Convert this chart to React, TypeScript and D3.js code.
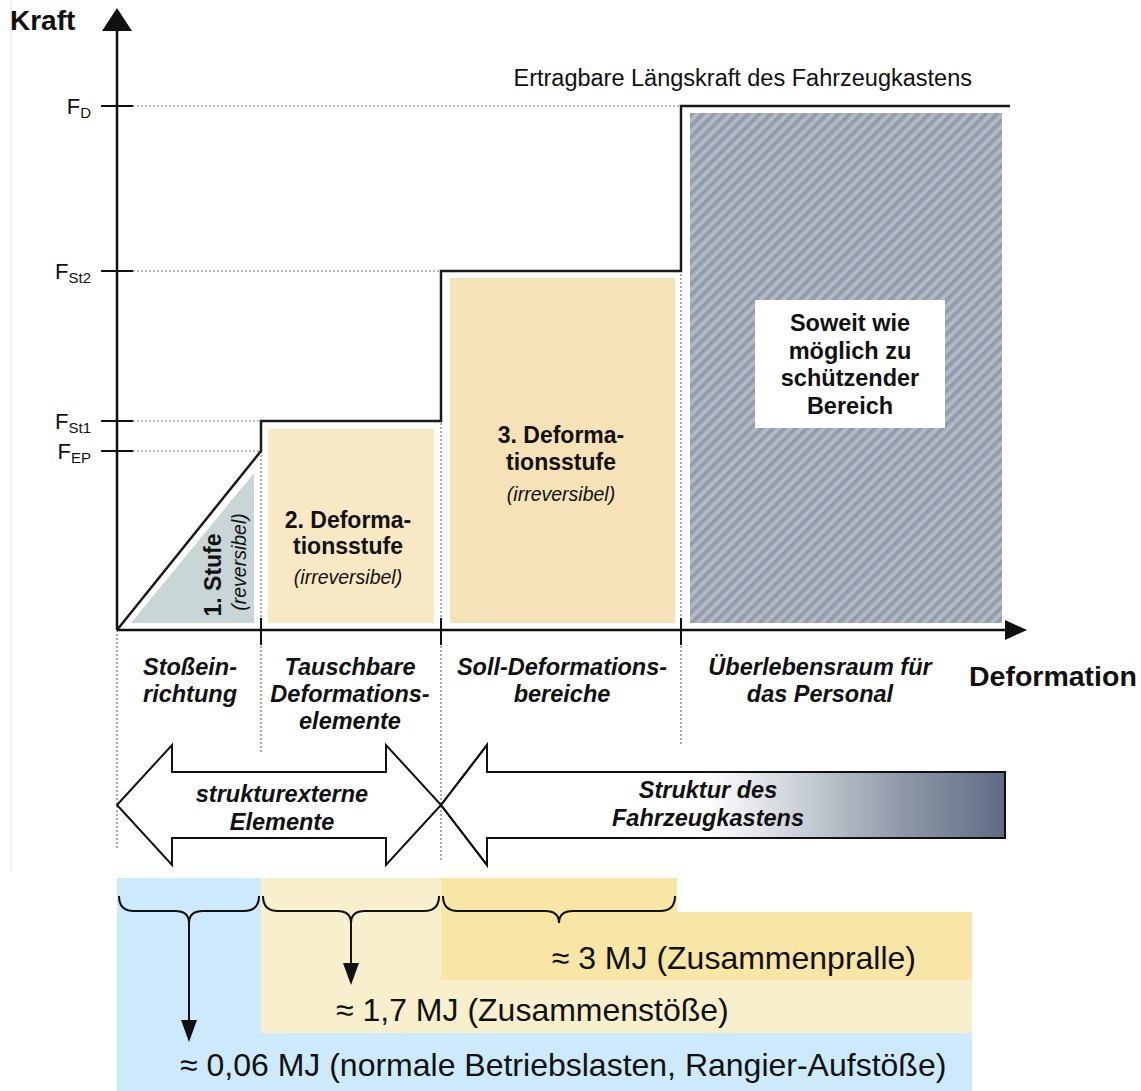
import React from "react";
import * as d3 from "d3";

// ---- data (diagram units) ----
const deformationBounds = [0, 144, 324, 564, 893]; // stage boundaries along deformation axis
const forceLevels = [
  { key: "EP", main: "F", sub: "EP", value: 179 },
  { key: "St1", main: "F", sub: "St1", value: 209 },
  { key: "St2", main: "F", sub: "St2", value: 359 },
  { key: "D", main: "F", sub: "D", value: 524 },
];
const profile = [
  [0, 0],
  [144, 179],
  [144, 209],
  [324, 209],
  [324, 359],
  [564, 359],
  [564, 524],
  [893, 524],
];
const categoryLabels = [
  ["Stoßein-", "richtung"],
  ["Tauschbare", "Deformations-", "elemente"],
  ["Soll-Deformations-", "bereiche"],
  ["Überlebensraum für", "das Personal"],
];
const energyLabels = [
  "≈ 3 MJ (Zusammenpralle)",
  "≈ 1,7 MJ (Zusammenstöße)",
  "≈ 0,06 MJ (normale Betriebslasten, Rangier-Aufstöße)",
];

const W = 1141;
const H = 1091;
const x = d3.scaleLinear().domain([0, 908]).range([117, 1025]);
const y = d3.scaleLinear().domain([0, 620]).range([630, 10]);

const FONT = "'Liberation Sans', Arial, sans-serif";

function brace(x0: number, x1: number, yTop: number) {
  const mid = (x0 + x1) / 2;
  const yb = yTop + 15;
  const tip = yTop + 27;
  const p = d3.path();
  p.moveTo(x0, yTop);
  p.quadraticCurveTo(x0, yb, x0 + 15, yb);
  p.lineTo(mid - 14, yb);
  p.quadraticCurveTo(mid, yb, mid, tip);
  p.quadraticCurveTo(mid, yb, mid + 14, yb);
  p.lineTo(x1 - 15, yb);
  p.quadraticCurveTo(x1, yb, x1, yTop);
  return p.toString();
}

export default function App() {
  const xb = deformationBounds.map((d) => x(d));
  const [x0, x1, x2, x3, x4] = xb;
  const y0 = y(0);
  const fEP = y(forceLevels[0].value);
  const fSt1 = y(forceLevels[1].value);
  const fSt2 = y(forceLevels[2].value);
  const fD = y(forceLevels[3].value);
  const line = d3
    .line<number[]>()
    .x((d) => x(d[0]))
    .y((d) => y(d[1]));

  const arrowMidY = 805;
  const headH = 60;
  const shaftH = 33;
  const dbl = [
    [x0, arrowMidY],
    [x0 + 55, arrowMidY - headH],
    [x0 + 55, arrowMidY - shaftH],
    [x2 - 55, arrowMidY - shaftH],
    [x2 - 55, arrowMidY - headH],
    [x2, arrowMidY],
    [x2 - 55, arrowMidY + headH],
    [x2 - 55, arrowMidY + shaftH],
    [x0 + 55, arrowMidY + shaftH],
    [x0 + 55, arrowMidY + headH],
  ];
  const sgl = [
    [x2, arrowMidY],
    [x2 + 46, arrowMidY - headH],
    [x2 + 46, arrowMidY - shaftH],
    [1005, arrowMidY - shaftH],
    [1005, arrowMidY + shaftH],
    [x2 + 46, arrowMidY + shaftH],
    [x2 + 46, arrowMidY + headH],
  ];
  const poly = (pts: number[][]) => "M" + pts.map((p) => p.join(",")).join("L") + "Z";

  const catCenters = [190, 350, 562, 820];

  const botTop = 878;
  const right = 972;
  const x3b = 677;

  return (
    <svg
      width={W}
      height={H}
      style={{ position: "absolute", left: 0, top: 0, background: "#fff" }}
      fontFamily={FONT}
    >
      <defs>
        <pattern id="hatch" width="8" height="8" patternUnits="userSpaceOnUse" patternTransform="rotate(45)">
          <rect width="8" height="8" fill="#a6afbb" />
          <rect width="3" height="8" fill="#929aab" />
          <rect x="5" width="1.5" height="8" fill="#bac3cc" />
        </pattern>
        <linearGradient id="grad" x1={x2} x2={1005} y1="0" y2="0" gradientUnits="userSpaceOnUse">
          <stop offset="0" stopColor="#ffffff" />
          <stop offset="0.47" stopColor="#ffffff" />
          <stop offset="0.64" stopColor="#c9cfd6" />
          <stop offset="0.82" stopColor="#8e98a8" />
          <stop offset="1" stopColor="#5e6b82" />
        </linearGradient>
      </defs>

      {/* faint scan border */}
      <line x1={11} x2={11} y1={0} y2={870} stroke="#ececec" strokeWidth={1.5} />

      {/* stage fills */}
      <path
        d={poly([
          [x0 + 14, y0 - 7],
          [x1 - 7, y0 - 7],
          [x1 - 7, fEP + 22],
        ])}
        fill="#c8d6d8"
      />
      <rect x={x1 + 7} y={fSt1 + 8} width={x2 - x1 - 14} height={y0 - fSt1 - 15} fill="#f8e8c4" />
      <rect x={x2 + 9} y={fSt2 + 7} width={x3 - x2 - 15} height={y0 - fSt2 - 14} fill="#f5e2b6" />
      <rect x={x3 + 9} y={fD + 7} width={x4 - x3 - 17} height={y0 - fD - 14} fill="url(#hatch)" />
      <rect x={755} y={300} width={190} height={128} fill="#fff" />

      {/* dotted guide lines */}
      <g stroke="#777" strokeWidth={1.2} strokeDasharray="2,2" fill="none">
        <line x1={133} x2={x3} y1={fD} y2={fD} />
        <line x1={133} x2={x2} y1={fSt2} y2={fSt2} />
        <line x1={133} x2={x1} y1={fSt1} y2={fSt1} />
        <line x1={133} x2={x1} y1={fEP} y2={fEP} />
        <line x1={x1} x2={x1} y1={fEP} y2={y0} />
        <line x1={x2} x2={x2} y1={fSt2} y2={y0} />
        <line x1={x3} x2={x3} y1={fD} y2={y0} />
        <line x1={x0} x2={x0} y1={y0} y2={850} />
        <line x1={x1} x2={x1} y1={y0} y2={752} />
        <line x1={x2} x2={x2} y1={y0} y2={862} />
        <line x1={x3} x2={x3} y1={y0} y2={745} />
      </g>

      {/* axes */}
      <line x1={x0} x2={x0} y1={y0} y2={28} stroke="#111" strokeWidth={2.5} />
      <path d={`M${x0 - 15},31L${x0 + 15},31L${x0},8Z`} fill="#111" />
      <line x1={x0} x2={1008} y1={y0} y2={y0} stroke="#111" strokeWidth={2.5} />
      <path d={`M1005,${y0 - 10}L1005,${y0 + 10}L1027,${y0}Z`} fill="#111" />

      {/* y ticks */}
      {forceLevels.map((f) => (
        <g key={f.key}>
          <line x1={101} x2={133} y1={y(f.value)} y2={y(f.value)} stroke="#111" strokeWidth={2} />
          <text x={91} y={y(f.value) + 8} textAnchor="end" fontSize={22} fill="#111">
            {f.main}
            <tspan fontSize={15} dy={4}>
              {f.sub}
            </tspan>
          </text>
        </g>
      ))}

      {/* x ticks */}
      {[x1, x2, x3].map((v, i) => (
        <line key={i} x1={v} x2={v} y1={618} y2={645} stroke="#111" strokeWidth={2} />
      ))}

      {/* force profile */}
      <path d={line(profile) || ""} fill="none" stroke="#1a1a1a" strokeWidth={2.5} />

      {/* text */}
      <text x={10} y={30} fontSize={28} fontWeight="bold" fill="#111">Kraft</text>
      <text x={969} y={686} fontSize={28.5} fontWeight="bold" fill="#111">Deformation</text>
      <text x={972} y={86} textAnchor="end" fontSize={23.5} fill="#111">Ertragbare Längskraft des Fahrzeugkastens</text>

      <text transform="translate(221,575) rotate(-90)" textAnchor="middle" fontSize={23} fontWeight="bold" fill="#111">1. Stufe</text>
      <text transform="translate(246,562) rotate(-90)" textAnchor="middle" fontSize={19.5} fontStyle="italic" fill="#111">(reversibel)</text>

      <g textAnchor="middle" fill="#111">
        <text x={348} y={528} fontSize={23} fontWeight="bold">2. Deforma-</text>
        <text x={348} y={554} fontSize={23} fontWeight="bold">tionsstufe</text>
        <text x={348} y={584} fontSize={19.5} fontStyle="italic">(irreversibel)</text>
        <text x={561} y={443} fontSize={23} fontWeight="bold">3. Deforma-</text>
        <text x={561} y={470} fontSize={23} fontWeight="bold">tionsstufe</text>
        <text x={561} y={501} fontSize={19.5} fontStyle="italic">(irreversibel)</text>
        {["Soweit wie", "möglich zu", "schützender", "Bereich"].map((t, i) => (
          <text key={t} x={850} y={331 + i * 27.5} fontSize={23.5} fontWeight="bold">{t}</text>
        ))}
      </g>

      {/* category labels */}
      <g textAnchor="middle" fill="#111" fontWeight="bold" fontStyle="italic" fontSize={23.5}>
        {categoryLabels.map((lines, i) =>
          lines.map((t, j) => (
            <text key={i + "-" + j} x={catCenters[i]} y={675 + j * 27}>{t}</text>
          ))
        )}
      </g>

      {/* region arrows */}
      <path d={poly(sgl)} fill="url(#grad)" stroke="#111" strokeWidth={2} />
      <path d={poly(dbl)} fill="#fff" stroke="#111" strokeWidth={2} />
      <path d={poly(sgl)} fill="none" stroke="#111" strokeWidth={2} />
      <g textAnchor="middle" fill="#111" fontWeight="bold" fontStyle="italic" fontSize={23.5}>
        <text x={282} y={802}>strukturexterne</text>
        <text x={282} y={830}>Elemente</text>
        <text x={708} y={798}>Struktur des</text>
        <text x={708} y={826}>Fahrzeugkastens</text>
      </g>

      {/* energy section */}
      <path
        d={poly([
          [x0, botTop],
          [x1, botTop],
          [x1, 1033],
          [right, 1033],
          [right, H],
          [x0, H],
        ])}
        fill="#cceafb"
      />
      <path
        d={poly([
          [x1, botTop],
          [x2, botTop],
          [x2, 980],
          [right, 980],
          [right, 1033],
          [x1, 1033],
        ])}
        fill="#f8efcd"
      />
      <path
        d={poly([
          [x2, botTop],
          [x3b, botTop],
          [x3b, 912],
          [right, 912],
          [right, 980],
          [x2, 980],
        ])}
        fill="#f7e6a6"
      />
      <g fill="none" stroke="#111" strokeWidth={2}>
        <path d={brace(x0 + 2, x1 - 2, 896)} />
        <path d={brace(x1 + 2, x2 - 2, 896)} />
        <path d={brace(x2 + 2, x3b - 2, 896)} />
        <line x1={(x0 + x1) / 2} x2={(x0 + x1) / 2} y1={923} y2={1022} />
        <line x1={(x1 + x2) / 2} x2={(x1 + x2) / 2} y1={923} y2={965} />
      </g>
      <path d={`M${(x0 + x1) / 2 - 8},1020L${(x0 + x1) / 2 + 8},1020L${(x0 + x1) / 2},1042Z`} fill="#111" />
      <path d={`M${(x1 + x2) / 2 - 8},963L${(x1 + x2) / 2 + 8},963L${(x1 + x2) / 2},985Z`} fill="#111" />
      <g fontSize={32} fill="#111">
        <text x={916} y={969} textAnchor="end">{energyLabels[0]}</text>
        <text x={336} y={1021}>{energyLabels[1]}</text>
        <text x={180} y={1076}>{energyLabels[2]}</text>
      </g>
    </svg>
  );
}
